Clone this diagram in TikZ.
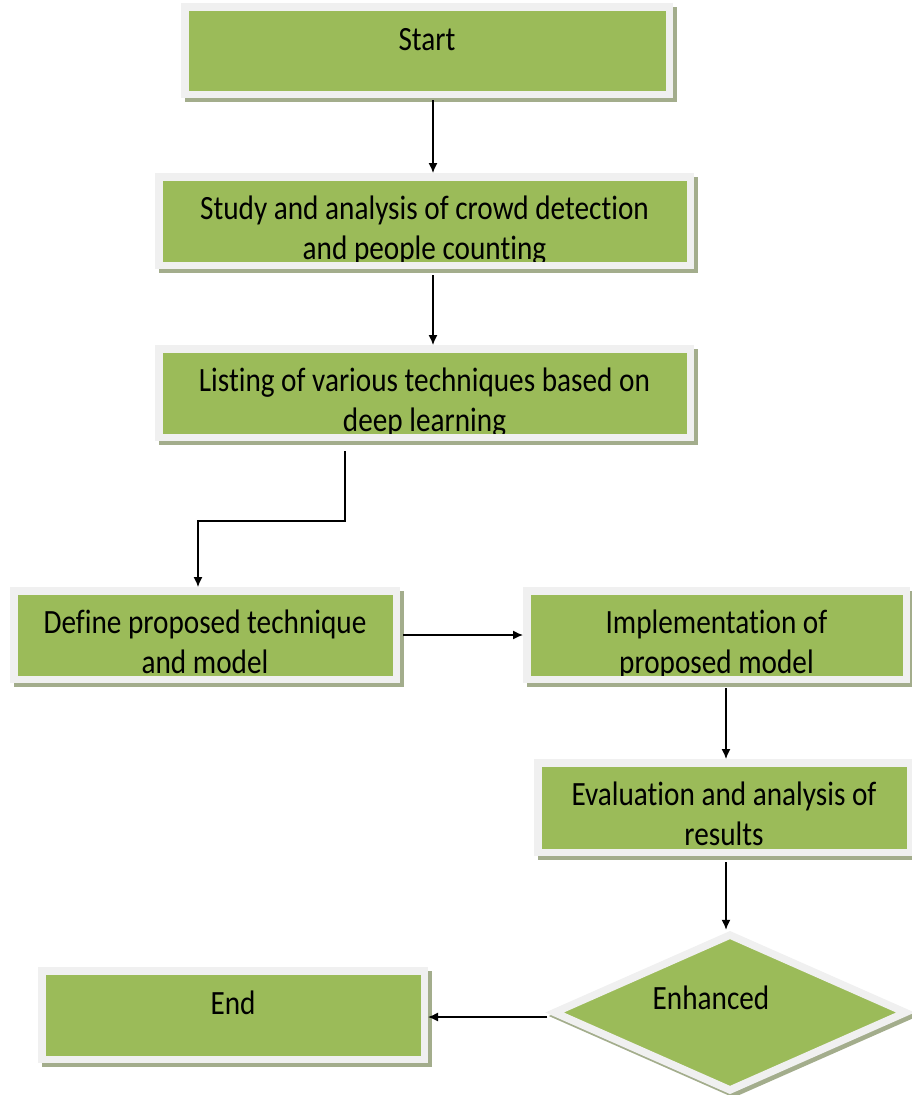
\documentclass[tikz,border=0pt]{standalone}
\usepackage{fontspec}
\setmainfont{Carlito}[FakeStretch=0.86,Ligatures=NoCommon]
\usetikzlibrary{positioning,shapes.geometric,shadows,arrows.meta}
\definecolor{boxgreen}{HTML}{9BBB59}
\definecolor{rimgray}{HTML}{F0F0F0}
\definecolor{shadegreen}{HTML}{A3AD8C}

\begin{document}
\begin{tikzpicture}[%
    x=1pt,
    y=-1pt,
    >={Latex[length=10pt,width=9pt]},
    flow/.style={%
      ->,
      line width=1.3pt
    },
    stepbox/.style={%
      rectangle,
      draw=rimgray,
      fill=boxgreen,
      line width=7.5pt,
      inner sep=0pt,
      minimum height=88.5pt,
      drop shadow={shadow xshift=3.5pt,shadow yshift=-3.5pt,
        fill=shadegreen,draw=shadegreen,opacity=1}
    },
    decision/.style={%
      diamond,
      draw=rimgray,
      fill=boxgreen,
      line width=7.5pt,
      inner sep=0pt,
      minimum width=354pt,
      minimum height=158pt,
      drop shadow={shadow xshift=3.5pt,shadow yshift=-3.5pt,
        fill=shadegreen,draw=shadegreen,opacity=1}
    },
    boxtext/.style={%
      inner sep=0pt,
      align=center,
      font=\fontsize{34}{40}\selectfont,
      execute at begin node=\strut
    }
  ]
    \useasboundingbox (0,0) rectangle (912,1095);

    % boxes
    \node[stepbox,minimum width=484.5pt,minimum height=87.5pt] (start) at (427,50.5)   {};
    \node[stepbox,minimum width=531.5pt]                       (study) at (424.5,221)  {};
    \node[stepbox,minimum width=531.5pt]                       (list)  at (424.5,393)  {};
    \node[stepbox,minimum width=382.5pt]                       (define) at (205,635)   {};
    \node[stepbox,minimum width=379.5pt]                       (impl)  at (716.5,635)  {};
    \node[stepbox,minimum width=372.5pt,minimum height=89.5pt] (eval)  at (724,807.5)  {};
    \node[stepbox,minimum width=382.5pt]                       (stop)  at (233,1015)   {};
    \node[decision]                                            (enh)   at (730,1012.5) {};

    % texts (two-line texts run past the green)
    \node[boxtext] (starttext) [below=19pt of start.north] {Start};
    \node[boxtext] (stoptext)  [below=19pt of stop.north]  {End};
    \node[boxtext,anchor=base] (enhtext) at ([shift={(-19,-3)}]enh.center) {Enhanced};
    \begin{scope}
      \clip ([shift={(7.5,7.5)}]study.north west) rectangle ([shift={(-7.5,-7.5)}]study.south east);
      \node[boxtext] (studytext) [below=23pt of study.north] {Study and analysis of crowd detection\\and people counting};
    \end{scope}
    \begin{scope}
      \clip ([shift={(7.5,7.5)}]list.north west) rectangle ([shift={(-7.5,-7.5)}]list.south east);
      \node[boxtext] (listtext) [below=23pt of list.north] {Listing of various techniques based on\\deep learning};
    \end{scope}
    \begin{scope}
      \clip ([shift={(7.5,7.5)}]define.north west) rectangle ([shift={(-7.5,-7.5)}]define.south east);
      \node[boxtext] (definetext) [below=23pt of define.north] {Define proposed technique\\and model};
    \end{scope}
    \begin{scope}
      \clip ([shift={(7.5,7.5)}]impl.north west) rectangle ([shift={(-7.5,-7.5)}]impl.south east);
      \node[boxtext] (impltext) [below=23pt of impl.north] {Implementation of\\proposed model};
    \end{scope}
    \begin{scope}
      \clip ([shift={(7.5,7.5)}]eval.north west) rectangle ([shift={(-7.5,-7.5)}]eval.south east);
      \node[boxtext] (evaltext) [below=23pt of eval.north] {Evaluation and analysis of\\results};
    \end{scope}

    % connectors
    \draw[flow,shorten <=2pt] ([xshift=6pt]start.south) -- ([xshift=6pt]start.south |- study.north);
    \draw[flow,shorten <=6pt] ([xshift=8.5pt]study.south) -- ([xshift=8.5pt]study.south |- list.north);
    \draw[flow,shorten <=10pt] ([xshift=-79.5pt]list.south) -- ++(0,80) -| ([xshift=-7pt]define.north);
    \draw[flow,shorten <=3pt] (define.east) -- (impl.west);
    \draw[flow,shorten <=5pt] ([xshift=9.5pt]impl.south) -- ([xshift=9.5pt]impl.south |- eval.north);
    \draw[flow,shorten <=6pt] ([xshift=2pt]eval.south) -- ([xshift=2pt]eval.south |- enh.north);
    \draw[flow,shorten <=2pt] ([yshift=-4.5pt]enh.west) -- ([yshift=-4.5pt]enh.west -| stop.east);
\end{tikzpicture}
\end{document}
